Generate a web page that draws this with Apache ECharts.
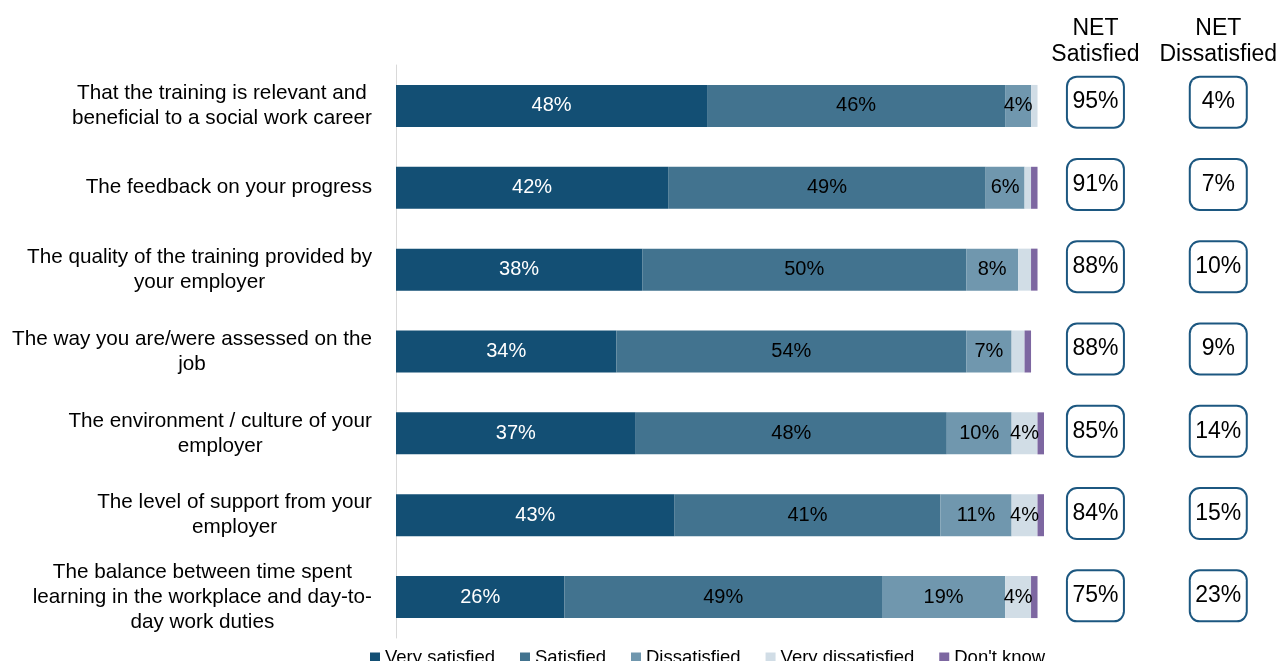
<!DOCTYPE html>
<html>
<head>
<meta charset="utf-8">
<script src="https://cdn.jsdelivr.net/npm/echarts@6/dist/echarts.min.js"></script>
<style>
  html, body { margin: 0; padding: 0; background: #fff; }
  #chart { width: 1280px; height: 661px; }
</style>
</head>
<body>
<div id="chart"></div>
<script>
// Statements rated, top to bottom
const categories = [
  'That the training is relevant and\nbeneficial to a social work career',
  'The feedback on your progress',
  'The quality of the training provided by\nyour employer',
  'The way you are/were assessed on the\njob',
  'The environment / culture of your\nemployer',
  'The level of support from your\nemployer',
  'The balance between time spent\nlearning in the workplace and day-to-\nday work duties'
];

// Share of respondents (%) per answer
const verySatisfied    = [48, 42, 38, 34, 37, 43, 26];
const satisfied        = [46, 49, 50, 54, 48, 41, 49];
const dissatisfied     = [4, 6, 8, 7, 10, 11, 19];
const veryDissatisfied = [1, 1, 2, 2, 4, 4, 4];
const dontKnow         = [0, 1, 1, 1, 1, 1, 1];

// Net scores shown in the boxes on the right
const netSatisfied    = [95, 91, 88, 88, 85, 84, 75];
const netDissatisfied = [4, 7, 10, 9, 14, 15, 23];
const netHeaders = ['NET\nSatisfied', 'NET\nDissatisfied'];

const FONT = '"Liberation Sans", Arial, Helvetica, sans-serif';

const segments = [
  { name: 'Very satisfied',    data: verySatisfied,    color: '#134f74', text: '#ffffff' },
  { name: 'Satisfied',         data: satisfied,        color: '#42738f', text: '#000000' },
  { name: 'Dissatisfied',      data: dissatisfied,     color: '#7097ae', text: '#000000' },
  { name: 'Very dissatisfied', data: veryDissatisfied, color: '#d1dde6', text: '#000000' },
  { name: "Don't know",        data: dontKnow,         color: '#7d67a1', text: '#000000' }
];

const barSeries = segments.map(s => ({
  name: s.name,
  type: 'bar',
  stack: 'total',
  xAxisIndex: 0,
  yAxisIndex: 0,
  barWidth: 42,
  data: s.data,
  itemStyle: { color: s.color },
  label: {
    show: true,
    position: 'inside',
    color: s.text,
    fontFamily: FONT,
    fontSize: 20,
    formatter: p => (p.value >= 3 ? p.value + '%' : '')
  },
  emphasis: { disabled: true }
}));

// Rounded boxes holding the net scores
function netBoxSeries(values, col) {
  return {
    type: 'scatter',
    xAxisIndex: 1,
    yAxisIndex: 1,
    symbolSize: 0,
    silent: true,
    itemStyle: { opacity: 1 },
    data: values.map((v, i) => [col, i, v]),
    label: {
      show: true,
      position: 'inside',
      formatter: p => p.value[2] + '%',
      color: '#000000',
      opacity: 1,
      fontFamily: FONT,
      fontSize: 23,
      backgroundColor: '#ffffff',
      borderColor: '#1c5780',
      borderWidth: 2,
      borderRadius: 9,
      width: 55,
      height: 49,
      lineHeight: 49,
      align: 'center',
      verticalAlign: 'middle'
    }
  };
}

const chart = echarts.init(document.getElementById('chart'), null, { renderer: 'canvas' });

chart.setOption({
  animation: false,
  textStyle: { fontFamily: FONT },
  legend: {
    data: segments.map(s => s.name),
    left: 365,
    top: 643,
    icon: 'rect',
    itemWidth: 10,
    itemHeight: 10,
    itemGap: 25,
    textStyle: { fontFamily: FONT, fontSize: 18.5, color: '#000' },
    selectedMode: false
  },
  grid: [
    { left: 396, top: 65, width: 648, height: 573 },
    { left: 1034, top: 61, width: 246, height: 576 }
  ],
  xAxis: [
    { type: 'value', gridIndex: 0, min: 0, max: 100, show: false },
    {
      type: 'category', gridIndex: 1, data: netHeaders, position: 'top',
      axisLine: { show: false }, axisTick: { show: false },
      axisLabel: {
        show: true, margin: -7, color: '#000', fontFamily: FONT,
        fontSize: 23, lineHeight: 26, interval: 0
      }
    }
  ],
  yAxis: [
    {
      type: 'category', gridIndex: 0, data: categories, inverse: true,
      axisLine: { show: true, lineStyle: { color: '#d9d9d9', width: 1 } },
      axisTick: { show: false },
      axisLabel: {
        margin: 24, color: '#000', fontFamily: FONT, fontSize: 20.7,
        lineHeight: 25, align: 'right', interval: 0,
        formatter: v => v.split('\n').map(l => '{c|' + l + '}').join('\n'),
        rich: { c: { align: 'center', fontSize: 20.7, lineHeight: 25, fontFamily: FONT, color: '#000' } }
      }
    },
    {
      type: 'category', gridIndex: 1, data: categories, inverse: true, show: false
    }
  ],
  series: barSeries.concat([netBoxSeries(netSatisfied, 0), netBoxSeries(netDissatisfied, 1)])
});
</script>
</body>
</html>
